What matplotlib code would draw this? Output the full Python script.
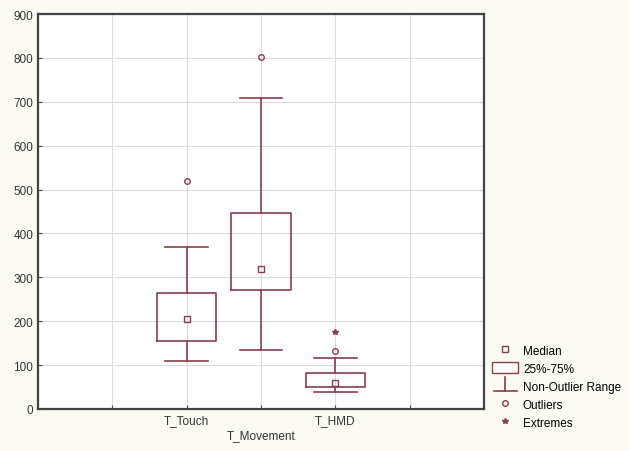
import matplotlib
matplotlib.use('Agg')
import matplotlib.pyplot as plt
from matplotlib.lines import Line2D
from matplotlib.patches import Rectangle
from matplotlib.legend_handler import HandlerBase

plt.rcParams['font.family'] = ['Liberation Sans', 'DejaVu Sans']
plt.rcParams['xtick.direction'] = 'in'
plt.rcParams['ytick.direction'] = 'in'

# data
groups = ['T_Touch', '', 'T_HMD']
positions = [2, 3, 4]
medians = [205, 320, 60]
q1 = [155, 272, 50]
q3 = [265, 447, 83]
whis_lo = [110, 135, 38]
whis_hi = [370, 708, 117]
outliers = [[520], [803], [133]]
extremes = [[], [], [175]]

box_color = '#8a3d4b'


class RangeHandler(HandlerBase):
    def create_artists(self, legend, orig_handle, xdescent, ydescent,
                       width, height, fontsize, trans):
        cx = width / 2 - xdescent
        y0 = -ydescent
        stem = Line2D([cx, cx], [y0, y0 + height * 1.3], color=box_color, lw=1.2, transform=trans)
        cap = Line2D([cx - width * 0.45, cx + width * 0.45], [y0, y0], color=box_color, lw=1.2,
                     transform=trans)
        return [stem, cap]


fig = plt.figure(figsize=(6.29, 4.52), dpi=100, facecolor='#fbfaf3')
ax = fig.add_axes([38 / 629, 1 - 410 / 452, 446 / 629, 395 / 452])
ax.set_facecolor('white')

stats = []
for i in range(len(groups)):
    stats.append(dict(med=medians[i], q1=q1[i], q3=q3[i], whislo=whis_lo[i],
                      whishi=whis_hi[i], fliers=[], label=groups[i]))

ax.bxp(stats, positions=positions, widths=0.8, capwidths=0.57, showfliers=False,
       boxprops=dict(color=box_color, lw=1.2),
       whiskerprops=dict(color=box_color, lw=1.2),
       capprops=dict(color=box_color, lw=1.2),
       medianprops=dict(visible=False))

ax.plot(positions, medians, 's', ms=4, mfc='none', mec=box_color, mew=1.0)
for p, vals in zip(positions, outliers):
    ax.plot([p] * len(vals), vals, 'o', ms=4, mfc='none', mec=box_color, mew=1.0)
for p, vals in zip(positions, extremes):
    ax.plot([p] * len(vals), vals, '*', ms=4, color=box_color)

ax.set_xlim(0, 6)
ax.set_ylim(0, 900)
ax.set_xticks([1, 2, 3, 4, 5])
ax.set_xticklabels(['', 'T_Touch', '', 'T_HMD', ''], fontsize=8.5, color='#333333')
ax.set_yticks(range(0, 901, 100))
ax.tick_params(axis='y', labelsize=8.5, labelcolor='#333333', length=3, color='#444444')
ax.tick_params(axis='x', length=3, color='#444444')
ax.grid(True, color='#dcdcdc', lw=0.8)
ax.set_axisbelow(True)
for s in ax.spines.values():
    s.set_color('#444444')
    s.set_linewidth(1.6)
ax.set_xlabel('T_Movement', fontsize=8.5, color='#333333', labelpad=2)

handles = [
    Line2D([], [], marker='s', ls='none', ms=4, mfc='none', mec=box_color),
    Rectangle((0, 0), 1, 1, fc='white', ec=box_color, lw=1.0),
    'range',
    Line2D([], [], marker='o', ls='none', ms=4, mfc='none', mec=box_color),
    Line2D([], [], marker='*', ls='none', ms=4, color=box_color),
]
labels = ['Median', '25%-75%', 'Non-Outlier Range', 'Outliers', 'Extremes']
fig.legend(handles, labels, loc='lower left', bbox_to_anchor=(484 / 629, 14 / 452),
           frameon=False, fontsize=8.5, handlelength=2.2, handleheight=1.1,
           handletextpad=0.4, labelspacing=0.45, borderpad=0.2,
           handler_map={str: RangeHandler()})

fig.savefig('out.png', dpi=100, facecolor=fig.get_facecolor())
